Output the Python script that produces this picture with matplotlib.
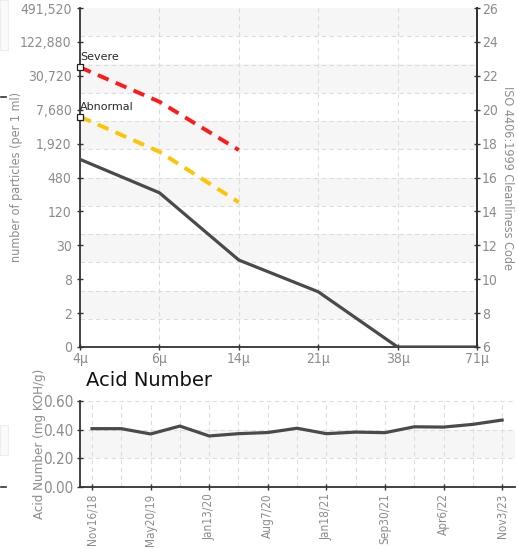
import numpy as np
import matplotlib
matplotlib.use("Agg")
import matplotlib.pyplot as plt
from matplotlib.lines import Line2D
from matplotlib.patches import Rectangle

# particle count chart (values in ISO 4406 code units, right axis)
sizes = ["4\u03bc", "6\u03bc", "14\u03bc", "21\u03bc", "38\u03bc", "71\u03bc"]
sample_code = [17.07, 15.1, 11.13, 9.26, 6.0, 6.0]
severe_code = [22.5, 20.47, 17.62]
abnormal_code = [19.59, 17.52, 14.54]
count_labels = ["0", "2", "8", "30", "120", "480", "1,920", "7,680",
                "30,720", "122,880", "491,520"]
code_ticks = [6, 8, 10, 12, 14, 16, 18, 20, 22, 24, 26]

# acid number trend
acid_values = [0.407, 0.407, 0.37, 0.425, 0.356, 0.372, 0.38, 0.41,
               0.372, 0.383, 0.379, 0.42, 0.418, 0.437, 0.467]
acid_ticklabels = ["Nov16/18", "May20/19", "Jan13/20", "Aug7/20",
                   "Jan18/21", "Sep30/21", "Apr6/22", "Nov3/23"]

W, H = 518, 549
GRAY = "#8c8c8c"
SPINE = "#333333"

plt.rcParams.update({
    "font.family": ["DejaVu Sans"],
    "font.stretch": "condensed",
})

fig = plt.figure(figsize=(W / 100, H / 100), dpi=100)


def box(x0, y0, x1, y1):
    return [x0 / W, 1 - y1 / H, (x1 - x0) / W, (y1 - y0) / H]


# ---- top chart ----
ax = fig.add_axes(box(80, 8, 477, 347))
ax.set_xlim(0, len(sizes) - 1)
ax.set_ylim(6, 26)
grid_y = np.linspace(6, 26, 13)
for i in range(12):
    if i % 2 == 1:
        ax.axhspan(grid_y[i], grid_y[i + 1], color="#f6f6f6", lw=0, zorder=0)
for gy in grid_y[1:-1]:
    ax.axhline(gy, color="#dddddd", lw=0.8, ls=(0, (4, 3)), zorder=1)
for gx in range(1, len(sizes) - 1):
    ax.axvline(gx, color="#dddddd", lw=0.8, ls=(0, (4, 3)), zorder=1)

x = np.arange(len(sizes))
ax.plot(x, sample_code, color="#4a4a4a", lw=2.3, zorder=3, solid_joinstyle="round")
ax.plot(x[:3], severe_code, color="#ff1a1a", lw=2.8, ls=(0, (3, 2)), zorder=3)
ax.plot(x[:3], abnormal_code, color="#ffc400", lw=2.8, ls=(0, (3, 2)), zorder=3)
ax.plot([0], [severe_code[0]], marker="s", ms=5, mfc="white", mec="#222222",
        mew=0.9, zorder=5, clip_on=False)
ax.plot([0], [abnormal_code[0]], marker="s", ms=5, mfc="white", mec="#222222",
        mew=0.9, zorder=5, clip_on=False)
for lab, yv in [("Severe", severe_code[0]), ("Abnormal", abnormal_code[0])]:
    ax.text(0.0, yv + 0.3, lab, fontsize=8, color="#2a2a2a", stretch="normal",
            ha="left", va="bottom", zorder=6)

ax.set_xticks(x)
ax.set_xticklabels(sizes)
ax.set_yticks(code_ticks)
ax.set_yticklabels(count_labels)
ax.tick_params(axis="both", colors=SPINE, labelcolor=GRAY, labelsize=10,
               direction="inout", length=5, width=1)
ax.tick_params(axis="x", pad=1)
for s in ["left", "bottom", "right"]:
    ax.spines[s].set_color(SPINE)
    ax.spines[s].set_linewidth(1.3)
ax.spines["top"].set_visible(False)
ax.set_ylabel("number of particles (per 1 ml)", color=GRAY, fontsize=9)
ax.yaxis.set_label_coords((23 - 80) / 397, 0.5)

axr = ax.twinx()
axr.set_ylim(6, 26)
axr.set_yticks(code_ticks)
axr.tick_params(axis="y", colors=SPINE, labelcolor=GRAY, labelsize=10,
                direction="inout", length=5, width=1, pad=1)
axr.spines["right"].set_color(SPINE)
axr.spines["right"].set_linewidth(1.3)
for s in ["left", "top", "bottom"]:
    axr.spines[s].set_visible(False)
axr.set_ylabel("ISO 4406:1999 Cleanliness Code", color=GRAY, fontsize=9,
               rotation=270, va="center")
axr.yaxis.set_label_coords((508 - 80) / 397, 0.5)

# ---- acid number chart ----
ax2 = fig.add_axes(box(80, 401, 515, 487))
n = len(acid_values)
xi = np.arange(n)
ax2.set_xlim(-0.41, n - 1 + 0.44)
ax2.set_ylim(0, 0.6)
ax2.axhspan(0.2, 0.4, color="#f6f6f6", lw=0, zorder=0)
for gy in [0.2, 0.4, 0.6]:
    ax2.axhline(gy, color="#dddddd", lw=0.8, ls=(0, (4, 3)), zorder=1)
for gx in xi:
    ax2.axvline(gx, color="#dddddd", lw=0.8, ls=(0, (4, 3)), zorder=1)
ax2.plot(xi, acid_values, color="#4a4a4a", lw=2.3, zorder=3)
ax2.set_xticks(xi[::2])
ax2.set_xticklabels(acid_ticklabels, rotation=90)
ax2.set_yticks([0, 0.2, 0.4, 0.6])
ax2.set_yticklabels(["0.00", "0.20", "0.40", "0.60"])
ax2.tick_params(axis="both", colors=SPINE, labelcolor=GRAY, labelsize=11,
                direction="inout", length=5, width=1)
ax2.tick_params(axis="y", pad=2)
ax2.tick_params(axis="x", pad=2, labelsize=8.5)
for s in ["left", "bottom"]:
    ax2.spines[s].set_color(SPINE)
    ax2.spines[s].set_linewidth(1.3)
for s in ["top", "right"]:
    ax2.spines[s].set_visible(False)
ax2.set_ylabel("Acid Number (mg KOH/g)", color=GRAY, fontsize=9.5)
ax2.yaxis.set_label_coords((46 - 80) / 435, 0.5)
fig.text(86 / W, 1 - 381 / H, "Acid Number", fontsize=14, color="#111111",
         stretch="normal", ha="left", va="center")

# page remnants at the left edge
for yy in [97, 487]:
    fig.add_artist(Line2D([1 / W, 6 / W], [1 - yy / H, 1 - yy / H],
                          color="#333333", lw=1.2))
for y0, y1 in [(0, 50), (425, 455)]:
    fig.add_artist(Rectangle((0, 1 - y1 / H), 8 / W, (y1 - y0) / H,
                             transform=fig.transFigure, facecolor="#fafafa",
                             edgecolor="#eeeeee", lw=0.8))

fig.savefig("out.png", dpi=100)
